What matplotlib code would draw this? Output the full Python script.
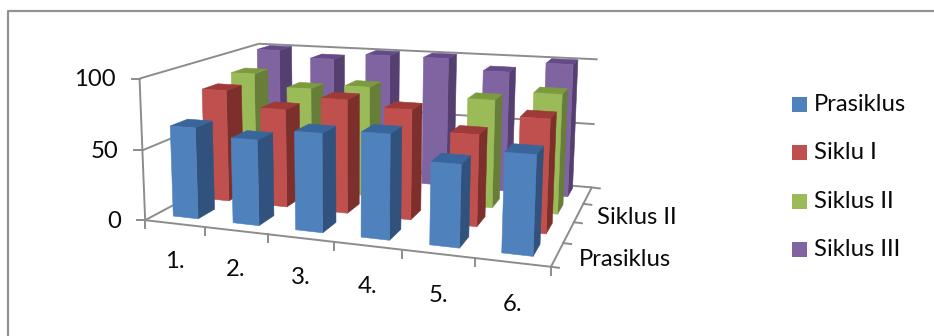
import numpy as np
import matplotlib
matplotlib.use('Agg')
import matplotlib.pyplot as plt
from matplotlib.patches import Polygon

plt.rcParams['font.family'] = ['Lato', 'DejaVu Sans']

categories = ['1.', '2.', '3.', '4.', '5.', '6.']
series_names = ['Prasiklus', 'Siklu I', 'Siklus II', 'Siklus III']
depth_labels = ['Prasiklus', 'Siklus II']
z_ticks = [0, 50, 100]

prasiklus = [65, 60, 68, 71, 55, 65]
siklu_1 = [83, 72, 82, 78, 64, 78]
siklus_2 = [88, 79, 83, np.nan, 79, 86]
siklus_3 = [100, 95, 100, 100, 92, 100]
values = [prasiklus, siklu_1, siklus_2, siklus_3]

front = ['#4F81BD', '#C0504D', '#9BBB59', '#8064A2']
top = ['#38659B', '#9E3A37', '#7C9A3E', '#644A88']
side = ['#30527C', '#7D2F2C', '#667E38', '#553F70']
grey = '#8C8C8C'
text_color = '#0A0A0A'
font_size = 17.2

# box corners on the picture, used to fit the camera of the 3d chart
world = [(0, 0, 0), (6, 0, 0), (6, 1, 0), (0, 1, 0), (0, 0, 100), (0, 1, 100),
         (6, 1, 100), (0, 0, 50), (6, 1, 50)]
pixels = [(148, 219), (551, 268), (593, 186), (258, 160), (137, 79), (262, 43),
          (597, 60), (142, 150), (594, 124)]

A, b = [], []
for (X, Y, Z), (u, v) in zip(world, pixels):
    X, Z = X / 6, Z / 100
    A.append([X, Y, Z, 1, 0, 0, 0, 0, -u * X, -u * Y, -u * Z])
    A.append([0, 0, 0, 0, X, Y, Z, 1, -v * X, -v * Y, -v * Z])
    b += [u, v]
cam = np.linalg.lstsq(np.array(A, float), np.array(b, float), rcond=None)[0]
cam = np.append(cam, 1).reshape(3, 4)


def proj(x, y, z):
    p = cam @ np.array([x / 6, y, z / 100, 1])
    return p[0] / p[2], p[1] / p[2]


fig = plt.figure(figsize=(9.34, 3.36), dpi=100)
ax = fig.add_axes([0, 0, 1, 1])
ax.set_xlim(0, 934)
ax.set_ylim(336, 0)
ax.axis('off')

# chart frame, only top and left are in the crop
ax.plot([934, 7.5, 7.5], [11, 11, 336], color='#929292', lw=1.6)


def line(a, b, lw=1.4):
    pa, pb = proj(*a), proj(*b)
    ax.plot([pa[0], pb[0]], [pa[1], pb[1]], color=grey, lw=lw, solid_capstyle='butt')


# walls
for z in z_ticks:
    line((0, 0, z), (0, 1, z))
    line((0, 1, z), (6, 1, z))
    p = proj(0, 0, z)
    ax.plot([p[0] - 8, p[0]], [p[1], p[1]], color=grey, lw=1.4)
    ax.text(p[0] - 24, p[1] + 1, str(z), ha='right', va='center', fontsize=font_size, color=text_color)
line((0, 0, 0), (0, 0, 100))
line((6, 0, 0), (6, 1, 0))

# category ticks and labels
line((0, 0, 0), (6, 0, 0))
for i in range(7):
    p = proj(i, 0, 0)
    ax.plot([p[0], p[0]], [p[1], p[1] + 8], color=grey, lw=1.4)
for i, name in enumerate(categories):
    p = proj(i + 0.5, 0, 0)
    ax.text(p[0], p[1] + 38 + i * 0.8, name, ha='center', va='center', fontsize=font_size, color=text_color)

# series ticks and labels
for j in range(5):
    p = proj(6, j / 4, 0)
    ax.plot([p[0], p[0] + 8], [p[1], p[1] + 1], color=grey, lw=1.4)
for j, name in enumerate(depth_labels):
    p = proj(6, (2 * j + 0.5) / 4, 0)
    ax.text(p[0] + 22 - j * 4, p[1] + 5, name, ha='left', va='center', fontsize=font_size, color=text_color)

# bars, back row first
bar_w = 0.21
bar_d = 0.065
for j in range(3, -1, -1):
    for i in range(6):
        val = values[j][i]
        if np.isnan(val):
            continue
        x0, x1 = i + 0.5 - bar_w, i + 0.5 + bar_w
        y0, y1 = (j + 0.58) / 4 - bar_d, (j + 0.58) / 4 + bar_d
        ax.add_patch(Polygon([proj(x1, y0, 0), proj(x1, y1, 0), proj(x1, y1, val), proj(x1, y0, val)],
                             fc=side[j], ec=side[j], lw=0.4, zorder=3 + (3 - j)))
        ax.add_patch(Polygon([proj(x0, y0, val), proj(x1, y0, val), proj(x1, y1, val), proj(x0, y1, val)],
                             fc=top[j], ec=top[j], lw=0.4, zorder=3 + (3 - j)))
        ax.add_patch(Polygon([proj(x0, y0, 0), proj(x1, y0, 0), proj(x1, y0, val), proj(x0, y0, val)],
                             fc=front[j], ec=front[j], lw=0.4, zorder=3 + (3 - j)))

# legend
for j, name in enumerate(series_names):
    y = 104.5 + j * 48.3
    ax.add_patch(Polygon([(792, y - 7.5), (807, y - 7.5), (807, y + 7.5), (792, y + 7.5)], fc=front[j], ec='none'))
    ax.text(814, y, name, ha='left', va='center', fontsize=font_size, color=text_color)

fig.savefig('out.png', dpi=100)
